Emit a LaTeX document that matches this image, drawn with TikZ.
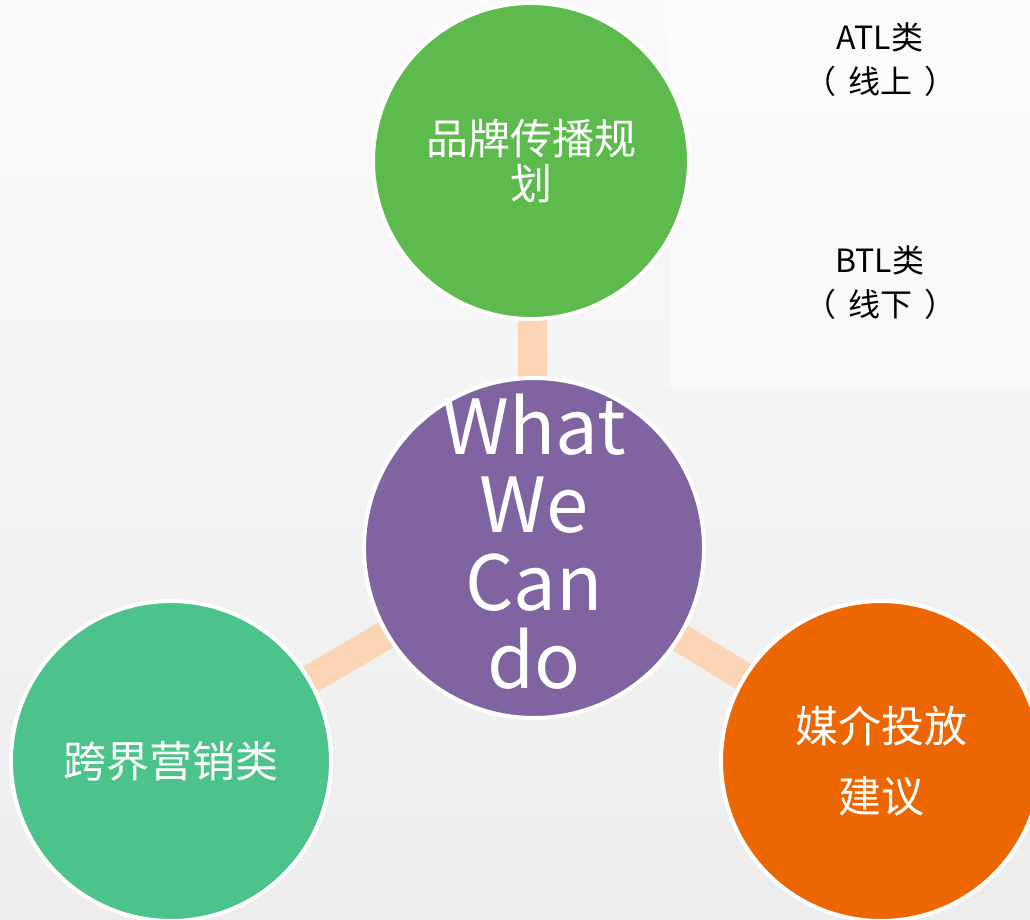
\documentclass[tikz,border=0pt]{standalone}
\usepackage{fontspec}
\setmainfont{Noto Sans CJK SC}
\usetikzlibrary{backgrounds}
\definecolor{cgreen}{HTML}{5CBB4C}
\definecolor{cpurple}{HTML}{8064A2}
\definecolor{cteal}{HTML}{4BC38A}
\definecolor{corange}{HTML}{EC6602}
\definecolor{cpeach}{HTML}{FCD5B4}
\definecolor{bgtop}{HTML}{FAFAFA}
\definecolor{bgbot}{HTML}{EDEDED}
\tikzset{
  bubble/.style={circle, draw=white, line width=4pt, text=white, align=center, inner sep=0pt},
  conn/.style={cpeach, line width=29pt},
  panelbox/.style={fill=white, fill opacity=0.35, draw=white, draw opacity=0.8, line width=1pt},
  side/.style={align=center, text=black, font=\fontsize{32}{44}\selectfont}
}
\begin{document}
\begin{tikzpicture}[x=1pt,y=-1pt]
\useasboundingbox (0,0) rectangle (1030,919);
\begin{scope}[on background layer]
  \shade[top color=bgtop, bottom color=bgbot] (0,0) rectangle (1030,919);
  \path[panelbox] (670,-2) rectangle (1032,218);
  \path[panelbox] (670,218) rectangle (1032,385);
\end{scope}
\node[bubble, fill=cgreen, minimum size=316pt, font=\fontsize{42}{45}\selectfont] (t) at (531,161) {品牌传播规\\划};
\node[bubble, fill=cpurple, minimum size=340pt] (c) at (534,548) {};
\node[text=white, align=center, font=\fontsize{76}{78}\selectfont] (ct) at (534,542) {What\\We\\Can\\do};
\node[bubble, fill=cteal, minimum size=320pt, font=\fontsize{43}{50}\selectfont] (l) at (171,761) {跨界营销类};
\node[bubble, fill=corange, minimum size=320pt, font=\fontsize{43}{70}\selectfont] (r) at (881,761) {媒介投放\\建议};
\begin{scope}[on background layer]
  \draw[conn] (c.center) -- (t.center);
  \draw[conn] (c.center) -- (l.center);
  \draw[conn] (c.center) -- (r.center);
\end{scope}
\node[side] (atl) at (880,60) {ATL类\\（\hspace{12pt}线上\hspace{12pt}）};
\node[side] (btl) at (880,283) {BTL类\\（\hspace{12pt}线下\hspace{12pt}）};
\end{tikzpicture}
\end{document}
